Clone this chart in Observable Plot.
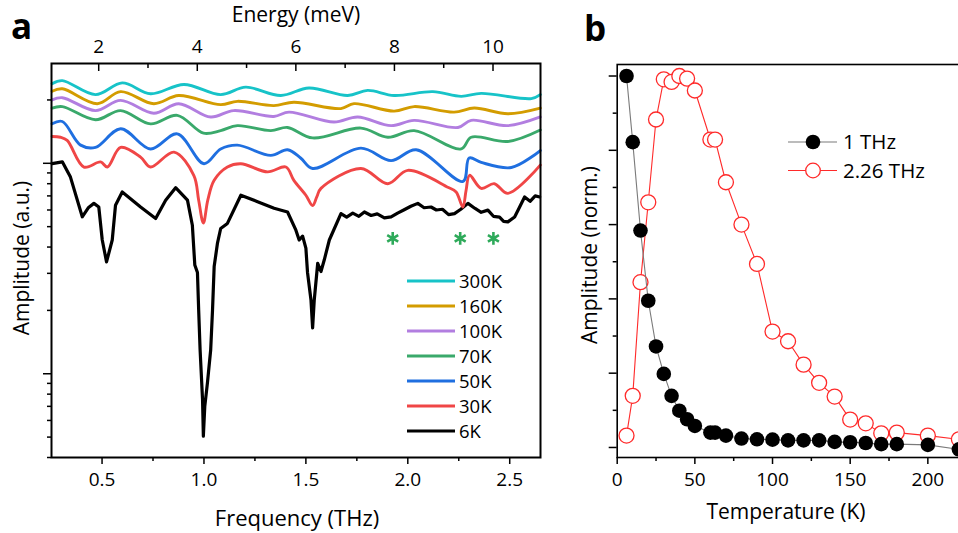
<!DOCTYPE html>
<html><head><meta charset="utf-8">
<script src="https://cdn.jsdelivr.net/npm/d3@7"></script>
<script src="https://cdn.jsdelivr.net/npm/@observablehq/plot@0.6"></script>
<style>
html,body{margin:0;padding:0;overflow:hidden;background:#fff;}
#root{position:relative;width:958px;height:533px;overflow:hidden;font-family:"Open Sans",sans-serif;}
.panel{position:absolute;top:0;}
.panel svg{max-width:none;display:block;}
#overlay{position:absolute;left:0;top:0;pointer-events:none;}
</style></head><body>
<div id="root">
  <div id="pa" class="panel" style="left:0;width:560px"></div>
  <div id="pb" class="panel" style="left:560px;width:420px"></div>
  <svg id="overlay" width="958" height="533"></svg>
</div>
<script>
// ---------- Panel a data: frequency (THz) and amplitude (a.u., log scale) ----------
const seriesNames  = ["300K", "160K", "100K", "70K", "50K", "30K", "6K"];
const seriesColors = ["#17c3c8", "#d39c00", "#b27ee0", "#3aa96b", "#1f6fe0", "#f04646", "#000000"];

const f300 = [0.255,0.305,0.468,0.599,0.738,0.902,1.082,1.205,1.377,1.515,1.705,1.803,1.933,2.123,2.262,2.360,2.606,2.650];
const a300 = [239,247,212,241,214,237,212,230,210,228,210,222,210,219,208,215,203,212];

const f160 = [0.255,0.305,0.477,0.591,0.754,0.876,1.082,1.164,1.343,1.441,1.672,1.736,1.933,2.031,2.227,2.326,2.491,2.650];
const a160 = [220,226,192,219,192,210,190,197,188,195,182,192,177,186,175,183,172,183];

const f100 = [0.255,0.305,0.468,0.591,0.754,0.876,1.033,1.146,1.343,1.417,1.638,1.754,1.918,2.031,2.246,2.311,2.491,2.650];
const a100 = [200,205,178,199,173,192,166,178,167,175,157,166,151,160,148,160,151,166];

const f70 = [0.255,0.305,0.468,0.591,0.738,0.869,0.998,1.082,1.164,1.328,1.410,1.533,1.770,1.902,2.031,2.262,2.311,2.491,2.650];
const a70 = [183,186,161,178,154,169,139,143,151,143,148,132,147,133,143,117,133,127,144];

const f50 = [0.255,0.305,0.395,0.468,0.591,0.738,0.869,1.000,1.082,1.164,1.328,1.410,1.474,1.533,1.770,1.918,2.041,2.271,2.301,2.360,2.508,2.650];
const a50 = [154,158,122,119,146,117,138,99.5,117,122,109,116,106,94.5,118,103,116,82,106,101,95.5,115];

const f30 = [0.255,0.296,0.329,0.411,0.493,0.526,0.591,0.689,0.738,0.853,0.950,0.974,0.997,1.019,1.050,1.115,1.181,1.312,1.402,1.441,1.500,1.533,1.554,1.574,1.770,1.902,2.000,2.196,2.237,2.270,2.286,2.303,2.360,2.424,2.491,2.650];
const a30 = [134,133,128.5,96,101.5,96,119,107,96,113,87.7,66.8,52,67,83,96,99.5,91,96,83,70.5,63,69.5,76,94.5,80,92.6,77,73,62,74.5,87.7,76,80,72,98];

const f6 = [0.255,0.305,0.345,0.403,0.434,0.460,0.484,0.501,0.522,0.550,0.566,0.599,0.689,0.763,0.812,0.861,0.919,0.943,0.955,0.968,0.974,0.981,0.993,0.997,1.004,1.017,1.033,1.042,1.050,1.066,1.082,1.115,1.181,1.263,1.344,1.410,1.451,1.467,1.484,1.500,1.508,1.525,1.533,1.541,1.558,1.574,1.590,1.615,1.672,1.700,1.730,1.760,1.787,1.820,1.850,1.885,1.918,1.950,1.980,2.015,2.049,2.080,2.114,2.140,2.170,2.200,2.229,2.260,2.295,2.330,2.360,2.393,2.420,2.450,2.470,2.491,2.524,2.545,2.573,2.600,2.625,2.647];
const a6 = [99.6,101.6,86,55.7,61.7,64.5,62,43.2,34.0,43.2,63.2,73.1,62,54.7,66.8,76.6,66.8,50.8,32.9,30.3,20.1,13.0,7.53,5.05,7.0,9.05,13.0,20.1,32.3,41.6,49,51.8,70.5,65.7,61.1,58.7,48.1,43.2,45.1,39.5,30.3,22.4,16.5,22.4,33.5,30.6,34.7,43.2,57.7,55.5,58,56,58.7,56.5,57.5,55,55.6,58,60,62.5,64.5,61.5,62,60,60.5,57,57.7,60.5,64.5,61,58.5,59.9,56,55.5,53,52.7,55.6,61,69.2,66,70,69.2];

const seriesFreq = [f300, f160, f100, f70, f50, f30, f6];
const seriesAmp  = [a300, a160, a100, a70, a50, a30, a6];

// marked modes (green asterisks)
const starFreq = [1.926, 2.257, 2.420];
const starAmp  = [44, 44, 44];

// axis ticks
const freqMajor = [0.5, 1.0, 1.5, 2.0, 2.5];
const freqMinor = [0.75, 1.25, 1.75, 2.25];
const energyMajor = [2, 4, 6, 8, 10];
const energyMinor = [3, 5, 7, 9];
const MEV_PER_THZ = 4.13567;
const ampMajor = [10, 100];
const ampMinor = [4,5,6,7,8,9,20,30,40,50,60,70,80,90,200];

// ---------- Panel b data: temperature (K) and normalized amplitude ----------
const temps1THz = [6,10,15,20,25,30,35,40,45,50,60,63,70,80,90,100,110,120,130,140,150,160,170,180,200,220];
const amp1THz   = [1.0,0.822,0.584,0.395,0.272,0.198,0.139,0.099,0.076,0.058,0.040,0.040,0.032,0.024,0.022,0.021,0.019,0.019,0.019,0.015,0.014,0.012,0.009,0.009,0.007,-0.005];
const temps226THz = [6,10,15,20,25,30,35,40,45,50,60,63,70,80,90,100,110,120,130,140,150,160,170,180,200,220];
const amp226THz   = [0.032,0.139,0.445,0.66,0.883,0.991,0.984,1.0,0.993,0.961,0.829,0.829,0.714,0.60,0.494,0.312,0.286,0.223,0.174,0.137,0.075,0.065,0.038,0.040,0.032,0.022];
const tempMajor = [0, 50, 100, 150, 200];
const tempMinor = [25, 75, 125, 175, 225];
const normMajor = [0, 0.2, 0.4, 0.6, 0.8, 1.0];
const normMinor = [0.1, 0.3, 0.5, 0.7, 0.9];

const FONT = '"Open Sans", sans-serif';

// ---------- Panel a ----------
const HA = 533, MTA = 63, MBA = 76;
const frameHA = HA - MTA - MBA;
const lineMarks = [];
for (let i = seriesNames.length - 1; i >= 0; i--) {
  const rows = seriesFreq[i].map((f, j) => ({f, a: seriesAmp[i][j]}));
  const isBlack = i === seriesNames.length - 1;
  lineMarks.push(Plot.line(rows, {
    x: "f", y: "a", stroke: seriesColors[i], strokeWidth: isBlack ? 3.2 : 2.9,
    curve: isBlack ? "linear" : "catmull-rom", strokeLinejoin: "round"
  }));
}
const stars = starFreq.map((f, i) => ({f, a: starAmp[i]}));

const plotA = Plot.plot({
  width: 560, height: HA,
  marginLeft: 51, marginRight: 20, marginTop: MTA, marginBottom: MBA,
  style: {fontFamily: FONT, fontSize: "19px", color: "#000", background: "transparent", overflow: "visible"},
  x: {domain: [0.252, 2.651]},
  y: {type: "log", domain: [4.0, 298]},
  marks: [
    ...lineMarks,
    Plot.dot(stars, {x: "f", y: "a", symbol: "asterisk", stroke: "#2eaa5a", r: 6, strokeWidth: 2.6}),
    Plot.frame({stroke: "#000", strokeWidth: 2}),
    Plot.axisX({anchor: "bottom", ticks: freqMajor, tickSize: 7, tickPadding: 8, tickFormat: d3.format(".1f"), label: null, strokeWidth: 1.5}),
    Plot.axisX({anchor: "bottom", ticks: freqMinor, tickSize: 4, tickFormat: () => "", label: null, strokeWidth: 1.5}),
    Plot.axisX({anchor: "top", ticks: energyMajor.map(e => e / MEV_PER_THZ), tickSize: 0, tickPadding: 11,
                tickFormat: d => String(Math.round(d * MEV_PER_THZ)), label: null}),
    Plot.tickX(energyMajor, {x: e => e / MEV_PER_THZ, insetBottom: frameHA - 8, strokeWidth: 1.5}),
    Plot.tickX(energyMinor, {x: e => e / MEV_PER_THZ, insetBottom: frameHA - 5, strokeWidth: 1.5}),
    Plot.axisY({ticks: ampMajor, tickSize: 8, tickFormat: () => "", label: null, strokeWidth: 1.5}),
    Plot.axisY({ticks: ampMinor, tickSize: 4, tickFormat: () => "", label: null, strokeWidth: 1.5})
  ]
});
document.getElementById("pa").appendChild(plotA);

// ---------- Panel b ----------
const rows1 = temps1THz.map((t, i) => ({t, a: amp1THz[i]}));
const rows2 = temps226THz.map((t, i) => ({t, a: amp226THz[i]}));
const plotB = Plot.plot({
  width: 420, height: 533,
  marginLeft: 56.7, marginRight: 0, marginTop: 64, marginBottom: 76,
  style: {fontFamily: FONT, fontSize: "19px", color: "#000", background: "transparent", overflow: "visible"},
  x: {domain: [0, 233.9]},
  y: {domain: [-0.027, 1.031]},
  marks: [
    Plot.line(rows2, {x: "t", y: "a", stroke: "#ff2a2a", strokeWidth: 1.1}),
    Plot.dot(rows2, {x: "t", y: "a", r: 7.5, fill: "#fff", stroke: "#ff2a2a", strokeWidth: 1.3}),
    Plot.line(rows1, {x: "t", y: "a", stroke: "#7a7a7a", strokeWidth: 1.1}),
    Plot.dot(rows1, {x: "t", y: "a", r: 7.3, fill: "#000"}),
    Plot.frame({stroke: "#000", strokeWidth: 1.6}),
    Plot.axisX({ticks: tempMajor, tickSize: 7, tickPadding: 8, tickFormat: d3.format("d"), label: null, strokeWidth: 1.5}),
    Plot.axisX({ticks: tempMinor, tickSize: 4, tickFormat: () => "", label: null, strokeWidth: 1.5}),
    Plot.axisY({ticks: normMajor, tickSize: 8, tickFormat: () => "", label: null, strokeWidth: 1.5}),
    Plot.axisY({ticks: normMinor, tickSize: 4, tickFormat: () => "", label: null, strokeWidth: 1.5})
  ]
});
document.getElementById("pb").appendChild(plotB);

// ---------- Overlay: panel letters, axis titles, legends ----------
const ov = d3.select("#overlay").style("font-family", FONT);
ov.append("text").attr("x", 11).attr("y", 39).attr("font-size", 35).attr("font-weight", "bold").text("a");
ov.append("text").attr("x", 584).attr("y", 41).attr("font-size", 35).attr("font-weight", "bold").text("b");
ov.append("text").attr("x", 296).attr("y", 22).attr("font-size", 21).attr("text-anchor", "middle").text("Energy (meV)");
ov.append("text").attr("x", 297).attr("y", 526).attr("font-size", 22).attr("text-anchor", "middle").text("Frequency (THz)");
ov.append("text").attr("transform", "translate(29,258) rotate(-90)").attr("font-size", 21).attr("text-anchor", "middle").text("Amplitude (a.u.)");
ov.append("text").attr("x", 786).attr("y", 519).attr("font-size", 21).attr("text-anchor", "middle").text("Temperature (K)");
ov.append("text").attr("transform", "translate(597,255) rotate(-90)").attr("font-size", 21).attr("text-anchor", "middle").text("Amplitude (norm.)");

// legend a
seriesNames.forEach((name, i) => {
  const y = 281 + i * 25;
  ov.append("line").attr("x1", 407).attr("x2", 455).attr("y1", y).attr("y2", y)
    .attr("stroke", seriesColors[i]).attr("stroke-width", 3);
  ov.append("text").attr("x", 459).attr("y", y).attr("dy", "0.36em").attr("font-size", 18.5).text(name);
});

// legend b
const legB = [
  {label: "1 THz", line: "#7a7a7a", fill: "#000", stroke: "none"},
  {label: "2.26 THz", line: "#ff2a2a", fill: "#fff", stroke: "#ff2a2a"}
];
legB.forEach((d, i) => {
  const y = 142 + i * 28.5;
  ov.append("line").attr("x1", 788).attr("x2", 837).attr("y1", y).attr("y2", y).attr("stroke", d.line).attr("stroke-width", 1.1);
  ov.append("circle").attr("cx", 813).attr("cy", y).attr("r", 7.3).attr("fill", d.fill).attr("stroke", d.stroke).attr("stroke-width", 1.3);
  ov.append("text").attr("x", 843).attr("y", y).attr("dy", "0.36em").attr("font-size", 20.5).text(d.label);
});
</script>
</body></html>
